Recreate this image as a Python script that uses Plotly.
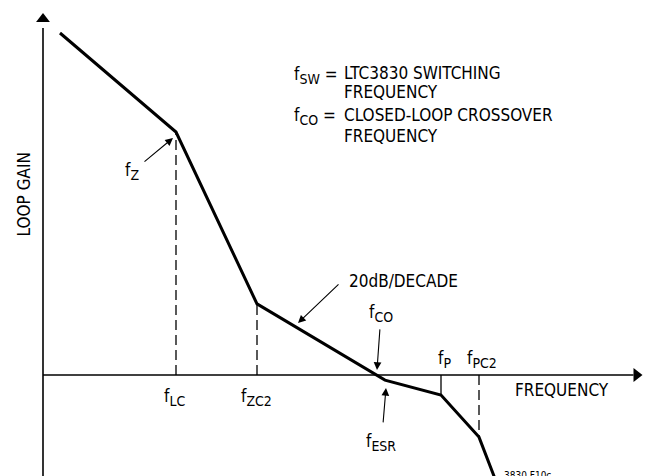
import numpy as np
import plotly.graph_objects as go

# Asymptotic loop-gain curve: log10(frequency) in decades vs gain in dB
FREQ_DEC = [0.17, 1.33, 2.14, 3.42, 3.98, 4.36, 4.525]
GAIN_DB = [114.0, 81.0, 23.7, -1.7, -6.7, -20.7, -35.0]

# Named break frequencies (decades)
F_Z = 1.33
F_LC = 1.33
F_ZC2 = 2.14
F_CO = 3.34
F_ESR = 3.42
F_P = 3.98
F_PC2 = 4.36

X_RANGE = [-0.43, 6.09]
Y_RANGE = [-33.667, 125.0]
AXIS_TOP = 118.7
AXIS_RIGHT = 5.935

FONT = "DejaVu Sans Condensed, Liberation Sans Narrow, Arial Narrow, sans-serif"
INK = "#000000"


def gain_at(f):
    return float(np.interp(f, FREQ_DEC, GAIN_DB))


def fsub(sub):
    # frequency symbol with a larger-than-default subscript
    return "f<sub><span style='font-size:14px'>" + sub + "</span></sub>"


fig = go.Figure()

# axes with arrowheads
fig.add_trace(go.Scatter(x=[0, 0], y=[Y_RANGE[0] - 5, AXIS_TOP - 3], mode="lines",
                         line=dict(color=INK, width=1.6), hoverinfo="skip"))
fig.add_trace(go.Scatter(x=[0, AXIS_RIGHT - 0.03], y=[0, 0], mode="lines",
                         line=dict(color=INK, width=1.6), hoverinfo="skip"))
fig.add_trace(go.Scatter(x=[0], y=[AXIS_TOP], mode="markers",
                         marker=dict(symbol="triangle-up", size=12, color=INK),
                         hoverinfo="skip"))
fig.add_trace(go.Scatter(x=[AXIS_RIGHT], y=[0], mode="markers",
                         marker=dict(symbol="triangle-right", size=12, color=INK),
                         hoverinfo="skip"))

# dashed drop lines at the break frequencies
for f in (F_LC, F_ZC2, F_PC2):
    fig.add_trace(go.Scatter(x=[f, f], y=[0, gain_at(f)], mode="lines",
                             line=dict(color=INK, width=1.3, dash="10px,5px"),
                             hoverinfo="skip"))
# solid tick at f_P
fig.add_trace(go.Scatter(x=[F_P, F_P], y=[0, gain_at(F_P)], mode="lines",
                         line=dict(color=INK, width=1.3), hoverinfo="skip"))

# loop gain curve
fig.add_trace(go.Scatter(x=FREQ_DEC, y=GAIN_DB, mode="lines",
                         line=dict(color=INK, width=3), hoverinfo="skip"))

annotations = []


def pointer(x0, y0, x1, y1):
    annotations.append(dict(x=x1, y=y1, ax=x0, ay=y0, xref="x", yref="y",
                            axref="x", ayref="y", text="", showarrow=True,
                            arrowhead=2, arrowsize=1.4, arrowwidth=1.1,
                            arrowcolor=INK))


def label(x, y, text, xanchor="center", yanchor="middle", size=17, angle=0):
    annotations.append(dict(x=x, y=y, xref="x", yref="y", text=text,
                            showarrow=False, xanchor=xanchor, yanchor=yanchor,
                            textangle=angle,
                            font=dict(family=FONT, size=size, color=INK)))


pointer(1.00, 70.7, F_Z - 0.03, gain_at(F_Z) - 2)
pointer(2.97, 30.7, 2.55, 17.3)
pointer(3.37, 15.7, F_CO, 1.7)
pointer(3.40, -16.3, F_ESR + 0.01, -4.3)

label(0.89, 68.0, fsub("Z"))
label(F_LC - 0.02, -7.5, fsub("LC"))
label(F_ZC2 - 0.01, -7.5, fsub("ZC2"))
label(3.04, 31.2, "20dB/DECADE", xanchor="left")
label(3.38, 20.5, fsub("CO"))
label(F_P + 0.03, 5.2, fsub("P"))
label(F_PC2 + 0.03, 5.2, fsub("PC2"))
label(4.70, -5.0, "FREQUENCY", xanchor="left")
label(3.38, -22.5, fsub("ESR"))
label(-0.19, 60.2, "LOOP GAIN", angle=-90)
label(4.59, -31.0, "3830 F10c", xanchor="left", yanchor="top", size=10)

label(2.49, 100.0, fsub("SW") + " =", xanchor="left")
label(2.99, 100.7, "LTC3830 SWITCHING", xanchor="left")
label(2.99, 94.2, "FREQUENCY", xanchor="left")
label(2.49, 86.1, fsub("CO") + " =", xanchor="left")
label(2.99, 86.8, "CLOSED-LOOP CROSSOVER", xanchor="left")
label(2.99, 79.7, "FREQUENCY", xanchor="left")

fig.update_layout(
    width=652, height=476,
    margin=dict(l=0, r=0, t=0, b=0),
    paper_bgcolor="white", plot_bgcolor="white",
    showlegend=False,
    xaxis=dict(range=X_RANGE, visible=False, fixedrange=True),
    yaxis=dict(range=Y_RANGE, visible=False, fixedrange=True),
    annotations=annotations,
)

fig.write_html("out.html")
